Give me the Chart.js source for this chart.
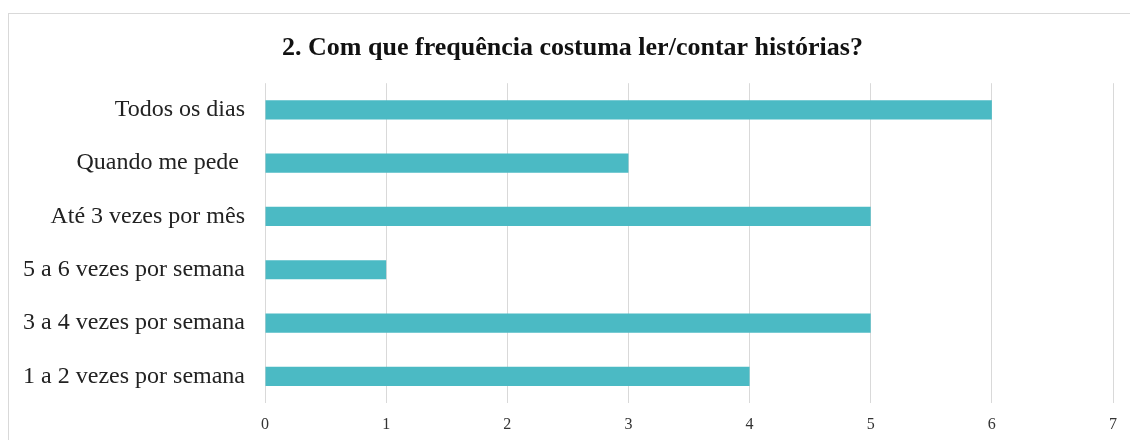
<!DOCTYPE html>
<html>
<head>
<meta charset="utf-8">
<script src="https://cdn.jsdelivr.net/npm/chart.js@4.4.0/dist/chart.umd.min.js"></script>
<style>
  html, body { margin: 0; padding: 0; background: #fff; }
  #wrap { position: relative; width: 1130px; height: 440px; overflow: hidden; }
  #frame { position: absolute; left: 8px; top: 13px; width: 1140px; height: 460px; border: 1px solid #d9d9d9; pointer-events: none; }
  canvas { position: absolute; left: 0; top: 0; }
</style>
</head>
<body>
<div id="wrap">
  <div id="frame"></div>
  <canvas id="graphCanvas" width="1130" height="440"></canvas>
</div>
<script>
const categories = [
    'Todos os dias',
    'Quando me pede ',
    'Até 3 vezes por mês',
    '5 a 6 vezes por semana',
    '3 a 4 vezes por semana',
    '1 a 2 vezes por semana'
];
const counts = [6, 3, 5, 1, 5, 4];
const xTicks = [0, 1, 2, 3, 4, 5, 6, 7];

const ctx = document.getElementById('graphCanvas').getContext('2d');

// left padding only shifts the title; let the category labels use the full width
const labelRoom = {
    id: 'labelRoom',
    afterLayout: chart => { chart.scales.y.left = 0; }
};

new Chart(ctx, {
    type: 'bar',
    data: {
        labels: categories,
        datasets: [{
            data: counts,
            backgroundColor: '#4bbac4',
            borderWidth: 0,
            categoryPercentage: 1,
            barPercentage: 0.36
        }]
    },
    options: {
        indexAxis: 'y',
        responsive: false,
        animation: false,
        layout: { padding: { left: 32, right: 17, top: 0, bottom: 0 } },
        scales: {
            x: {
                min: 0,
                max: 7,
                afterBuildTicks: axis => { axis.ticks = xTicks.map(v => ({ value: v })); },
                afterFit: axis => { axis.height = 37; },
                grid: { color: '#d9d9d9', drawTicks: false },
                border: { display: false },
                ticks: {
                    padding: 12,
                    color: '#333',
                    font: { family: 'Liberation Serif', size: 16 }
                }
            },
            y: {
                grid: { display: false, drawTicks: false },
                border: { display: false },
                afterFit: axis => { axis.width = 233; },
                ticks: {
                    padding: 20,
                    color: '#222',
                    font: { family: 'Liberation Serif', size: 24 }
                }
            }
        },
        plugins: {
            legend: { display: false },
            tooltip: { enabled: false },
            title: {
                display: true,
                text: '2. Com que frequência costuma ler/contar histórias?',
                color: '#111',
                font: { family: 'Liberation Serif', size: 26, weight: 'bold' },
                padding: { top: 33, bottom: 19 }
            }
        }
    },
    plugins: [labelRoom]
});
</script>
</body>
</html>
